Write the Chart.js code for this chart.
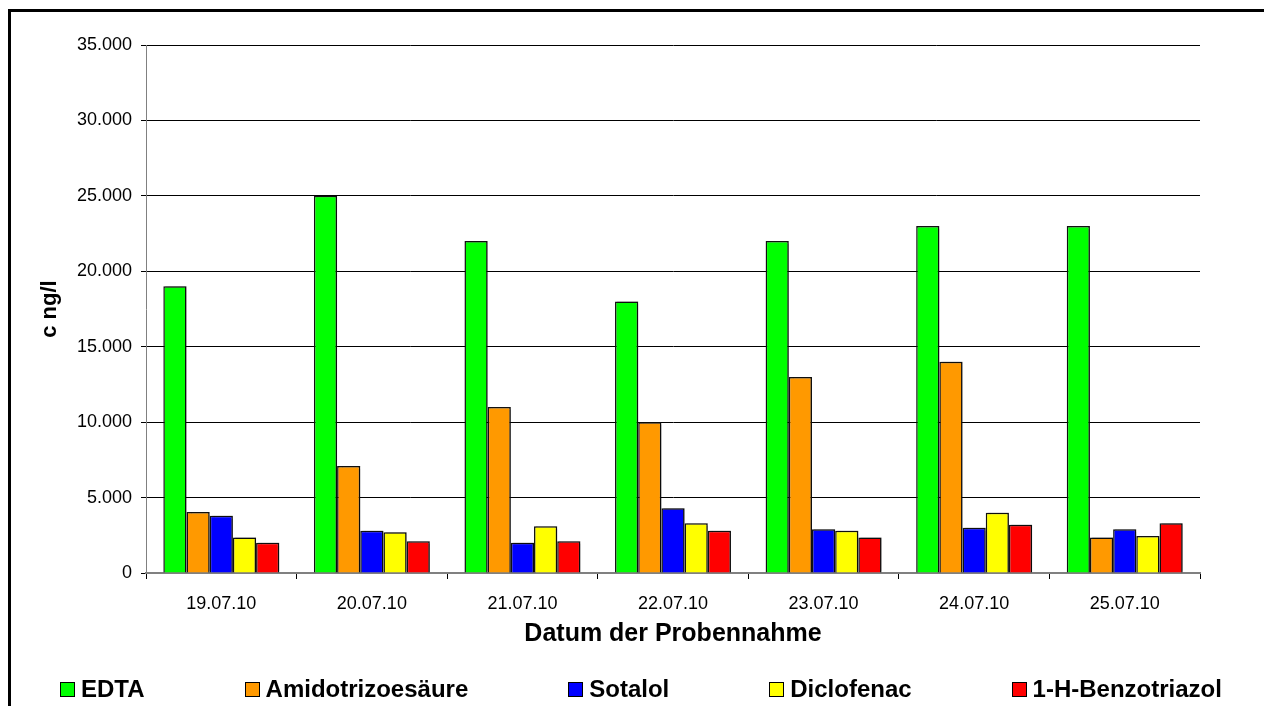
<!DOCTYPE html>
<html>
<head>
<meta charset="utf-8">
<script src="https://cdn.jsdelivr.net/npm/chart.js@4.4.1/dist/chart.umd.min.js"></script>
<style>
  html, body { margin: 0; padding: 0; background: #fff; }
  body { width: 1264px; height: 706px; position: relative; overflow: hidden; font-family: 'Liberation Sans', Arial, sans-serif; }
  #frame { position: absolute; left: 8px; top: 9px; width: 1300px; height: 800px; border-left: 3px solid #000; border-top: 3px solid #000; pointer-events: none; }
  #wrap { position: absolute; left: 0; top: 0; width: 1264px; height: 706px; }
  #legend { position: absolute; left: 60px; width: 1162px; top: 675px; display: flex; justify-content: space-between; align-items: center; font-weight: bold; font-size: 24px; color: #000; }
  #legend .item { display: flex; align-items: center; white-space: nowrap; }
  #legend .box { width: 13px; height: 13px; border: 1px solid #000; margin-right: 6px; }
</style>
</head>
<body>
<div id="wrap"><canvas id="chart" width="1264" height="706"></canvas></div>
<div id="frame"></div>
<div id="legend"></div>
<script>
// Sampling dates
const dates = ['19.07.10', '20.07.10', '21.07.10', '22.07.10', '23.07.10', '24.07.10', '25.07.10'];

// Concentrations in ng/l
const edta         = [19000, 25000, 22000, 18000, 22000, 23000, 23000];
const amidotrizoe  = [4050, 7100, 11000, 10000, 13000, 14000, 2350];
const sotalol      = [3800, 2800, 2000, 4300, 2900, 3000, 2900];
const diclofenac   = [2350, 2700, 3100, 3300, 2800, 4000, 2450];
const benzotriazol = [2000, 2100, 2100, 2800, 2350, 3200, 3300];

const seriesNames  = ['EDTA', 'Amidotrizoesäure', 'Sotalol', 'Diclofenac', '1-H-Benzotriazol'];
const seriesColors = ['#00ff00', '#ff9900', '#0000ff', '#ffff00', '#ff0000'];
const seriesValues = [edta, amidotrizoe, sotalol, diclofenac, benzotriazol];

const yTicks = [0, 5000, 10000, 15000, 20000, 25000, 30000, 35000];

const FONT = "'Liberation Sans', Arial, sans-serif";

// 25000 -> "25.000"
function fmt(v) {
  return String(v).replace(/\B(?=(\d{3})+(?!\d))/g, '.');
}

// light grey drop shadow on the bars, like the spreadsheet original
const barShadow = {
  id: 'barShadow',
  beforeDatasetsDraw(chart) {
    const c = chart.ctx;
    c.save();
    c.shadowColor = 'rgba(0,0,0,0.3)';
    c.shadowOffsetX = 2;
    c.shadowOffsetY = -1;
    c.shadowBlur = 1;
  },
  afterDatasetsDraw(chart) {
    chart.ctx.restore();
  }
};

new Chart(document.getElementById('chart'), {
  type: 'bar',
  data: {
    labels: dates,
    datasets: seriesNames.map((name, i) => ({
      label: name,
      data: seriesValues[i],
      backgroundColor: seriesColors[i],
      borderColor: '#111',
      borderWidth: 1.5,
      categoryPercentage: 0.77,
      barPercentage: 1.0
    }))
  },
  options: {
    responsive: false,
    animation: false,
    layout: { padding: { top: 45, right: 64, left: 0, bottom: 54 } },
    plugins: {
      legend: { display: false },
      tooltip: { enabled: false }
    },
    scales: {
      x: {
        afterFit: s => { s.height = 79; },
        grid: { offset: true, drawOnChartArea: false, drawTicks: true, tickLength: 6, color: '#000' },
        border: { color: '#808080', width: 2 },
        ticks: { color: '#000', padding: 14, font: { family: FONT, size: 18 }, maxRotation: 0 },
        title: {
          display: true,
          text: 'Datum der Probennahme',
          color: '#000',
          padding: { top: 0, bottom: 3 },
          font: { family: FONT, size: 25, weight: 'bold' }
        }
      },
      y: {
        min: 0,
        max: 35000,
        afterFit: s => { s.width = 146; },
        afterBuildTicks: s => { s.ticks = yTicks.map(v => ({ value: v })); },
        grid: {
          color: ctx => (ctx.tick && ctx.tick.value === 0 ? 'rgba(0,0,0,0)' : '#000'),
          tickColor: '#000',
          lineWidth: 1,
          tickLength: 5
        },
        border: { color: '#808080', width: 1 },
        ticks: { color: '#000', padding: 9, font: { family: FONT, size: 18 }, callback: v => fmt(v) },
        title: {
          display: true,
          text: 'c ng/l',
          color: '#000',
          padding: { top: 37, bottom: 0 },
          font: { family: FONT, size: 22, weight: 'bold' }
        }
      }
    }
  },
  plugins: [barShadow]
});

// Legend row under the axis title
const legend = document.getElementById('legend');
legend.innerHTML = seriesNames.map((s, i) => `
  <div class="item"><div class="box" style="background:${seriesColors[i]}"></div><span>${s}</span></div>`).join('');
</script>
</body>
</html>
